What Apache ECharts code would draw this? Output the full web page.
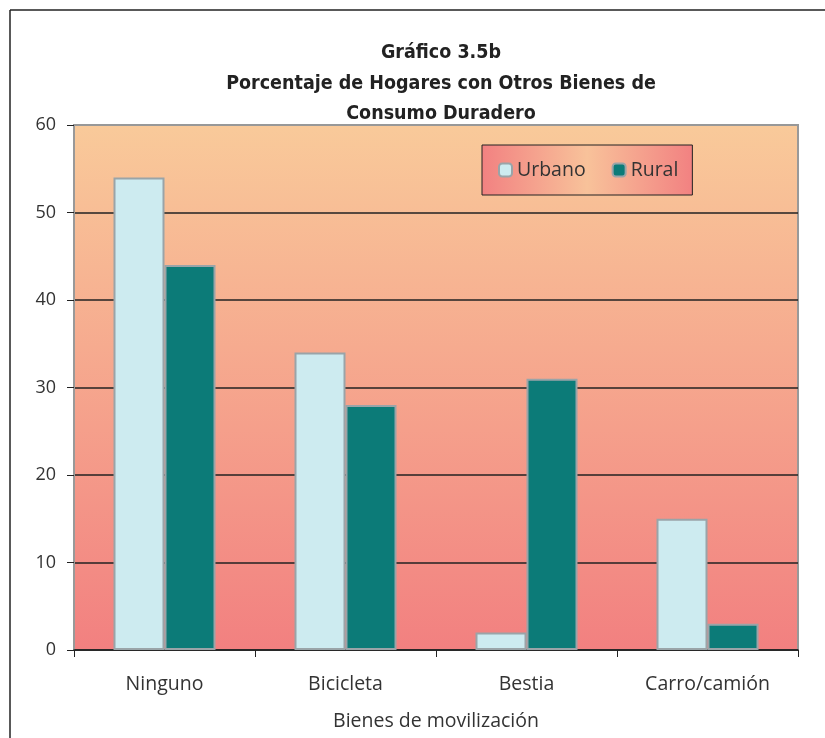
<!DOCTYPE html>
<html>
<head>
<meta charset="utf-8">
<script src="https://cdn.jsdelivr.net/npm/echarts@6/dist/echarts.min.js"></script>
<style>
html,body{margin:0;padding:0;background:#fff;}
#c{width:825px;height:738px;}
</style>
</head>
<body>
<div id="c"></div>
<script>
var categories = ['Ninguno', 'Bicicleta', 'Bestia', 'Carro/camión'];
var urbano = [54, 34, 2, 15];
var rural = [44, 28, 31, 3];
var seriesNames = ['Urbano', 'Rural'];
var yTicks = [0, 10, 20, 30, 40, 50, 60];

var chart = echarts.init(document.getElementById('c'));
var labelFont = '"Open Sans", "Noto Sans", sans-serif';
var titleFont = '"DejaVu Sans Condensed", "DejaVu Sans", sans-serif';

chart.setOption({
  animation: false,
  title: {
    text: 'Gráfico 3.5b\nPorcentaje de Hogares con Otros Bienes de\nConsumo Duradero',
    left: 436,
    textAlign: 'center',
    top: 33,
    textStyle: {
      fontFamily: titleFont,
      fontWeight: 'bold',
      fontSize: 19.5,
      lineHeight: 30.5,
      color: '#222'
    }
  },
  graphic: [
    { type: 'line', shape: { x1: 10, y1: 10, x2: 825, y2: 10 }, style: { stroke: '#222', lineWidth: 1.5 } },
    { type: 'line', shape: { x1: 10, y1: 10, x2: 10, y2: 738 }, style: { stroke: '#222', lineWidth: 1.5 } }
  ],
  legend: {
    data: seriesNames,
    left: 482,
    top: 145,
    padding: [15, 14, 15, 16],
    itemGap: 26,
    itemWidth: 13,
    itemHeight: 13,
    borderColor: '#222',
    borderWidth: 1,
    backgroundColor: new echarts.graphic.LinearGradient(0, 0, 1, 0, [
      { offset: 0, color: '#F28181' },
      { offset: 0.5, color: '#F8C29A' },
      { offset: 1, color: '#F28181' }
    ]),
    textStyle: { fontFamily: labelFont, fontSize: 19.5, color: '#333', padding: [0, 0, 0, 0] }
  },
  grid: {
    left: 74, right: 27, top: 125, bottom: 88,
    show: true,
    borderColor: '#999',
    borderWidth: 2,
    backgroundColor: new echarts.graphic.LinearGradient(0, 0, 0, 1, [
      { offset: 0, color: '#F9CA9A' },
      { offset: 1, color: '#F28080' }
    ])
  },
  xAxis: {
    type: 'category',
    data: categories,
    name: 'Bienes de movilización',
    nameLocation: 'middle',
    nameGap: 61,
    nameTextStyle: { fontFamily: labelFont, fontSize: 19.5, color: '#333' },
    axisLine: { lineStyle: { color: '#222', width: 1.5 } },
    axisTick: { show: true, alignWithLabel: false, length: 7, lineStyle: { color: '#222' } },
    axisLabel: { fontFamily: labelFont, fontSize: 19.5, color: '#333', margin: 24 }
  },
  yAxis: {
    type: 'value',
    min: 0, max: 60, interval: 10,
    axisLine: { show: true, lineStyle: { color: '#999', width: 2 } },
    axisTick: { show: true, length: 7, lineStyle: { color: '#222' } },
    axisLabel: { fontFamily: labelFont, fontSize: 18, color: '#333', margin: 18 },
    splitLine: { show: true, lineStyle: { color: ['#222', '#222', '#222', '#222', '#222', '#222', '#999'], width: 1.5 } }
  },
  series: [
    {
      name: seriesNames[0], type: 'bar', data: urbano,
      barWidth: 51, barGap: '0%',
      itemStyle: { color: '#CDEBF0', borderColor: '#9AA4A8', borderWidth: 2 }
    },
    {
      name: seriesNames[1], type: 'bar', data: rural,
      barWidth: 51,
      itemStyle: { color: '#0C7B78', borderColor: '#9AA4A8', borderWidth: 2 }
    }
  ]
});
</script>
</body>
</html>
